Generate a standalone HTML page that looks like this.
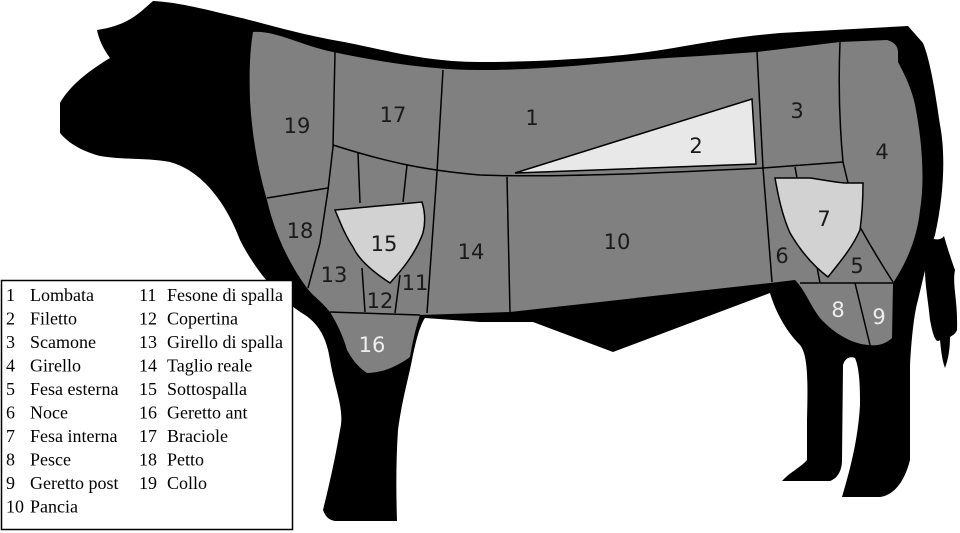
<!DOCTYPE html>
<html><head><meta charset="utf-8"><style>
html,body{margin:0;padding:0;background:#fff;}
svg{display:block}
.n{font-family:"DejaVu Sans","Liberation Sans",sans-serif;font-size:21px;fill:#1a1a1a;text-anchor:middle;dominant-baseline:middle}
.w{fill:#eee}
.l{font-family:"Liberation Serif",serif;font-size:18px;fill:#000}
</style></head><body>
<svg width="960" height="533" viewBox="0 0 960 533" xmlns="http://www.w3.org/2000/svg">
<path d="M153,1 C140,12 130,25 97,30 C100,45 108,55 110,58 C90,70 70,85 60,103 L60,133 C70,145 85,152 100,156 C125,160 150,158 170,162 C200,170 225,200 240,240 C255,270 280,300 305,315 C320,325 327,340 330,360 C335,390 345,410 340,430 C335,460 328,490 323,510 C326,518 330,520 335,521 L397,521 C396,490 396,460 398,430 C402,400 408,380 412,360 C416,340 420,325 425,318 L480,322 L533,322 L613,352 L770,293 C775,310 785,330 800,345 C808,355 808,380 807,420 L807,460 C800,468 790,472 782,481 L830,481 C838,478 842,470 842,460 L843,365 C845,358 850,356 855,358 C860,370 860,390 860,405 C858,440 850,470 842,497 L880,497 C895,495 905,480 910,460 L910,365 C912,330 915,310 918,300 C925,270 930,250 935,235 C945,190 945,150 940,125 C935,90 930,60 923,43 L908,26 L780,33 C720,38 680,48 640,53 C600,58 540,62 480,62 C420,62 380,48 333,40 C290,32 260,22 233,16 C200,8 175,2 153,1 Z" fill="#000"/>
<path d="M918,230 C930,240 940,242 944,236 C948,250 952,262 955,270 C952,285 958,300 957,330 C955,335 951,336 950,337 C950,350 948,360 945,368 C942,360 941,350 940,340 C935,345 932,330 930,320 C928,300 925,285 925,270 C922,255 918,245 918,230 Z" fill="#000"/>
<path d="M253,32 C275,30 300,45 333,52 C380,62 430,70 480,70 C560,70 620,60 700,56 L757,52 L840,42 L887,40 C895,42 898,47 898,52 L898,62 C905,75 912,90 915,105 C922,140 925,180 920,210 C917,240 905,265 893,283 L892,338 C885,345 875,346 870,345 C855,345 835,335 820,318 C810,305 805,290 795,280 L770,283 L510,312 L480,313 L420,315 C415,330 412,345 410,357 C395,368 380,373 367,373 C355,365 350,355 347,350 C343,335 335,320 330,312 C320,300 312,295 307,288 C290,265 275,235 267,200 C258,170 252,135 250,100 C249,70 250,50 253,32 Z" fill="#808080"/>
<g stroke="#000" stroke-width="1.5" fill="none">
<path d="M335,52 L333,147 L328,190 L320,243 L308,288"/>
<path d="M267,198 L328,188"/>
<path d="M333,145 C380,160 420,170 480,175 C560,178 680,172 763,168 L843,162"/>
<path d="M443,70 L437,172 L427,313"/>
<path d="M358,153 L360,203"/>
<path d="M407,165 L403,202"/>
<path d="M362,268 L365,312"/>
<path d="M400,275 L395,313"/>
<path d="M507,177 L510,312"/>
<path d="M757,52 L763,168 L772,282"/>
<path d="M840,42 C838,90 840,130 843,162 L848,183"/>
<path d="M795,167 L797,178"/>
<path d="M860,227 C870,245 882,265 893,282"/>
<path d="M817,267 L820,283"/>
<path d="M800,283 L893,283"/>
<path d="M855,283 L870,345"/>
<path d="M330,312 L420,315"/>
</g>
<path d="M515,173 L752,99 L756,164 Z" fill="#e8e8e8" stroke="#000" stroke-width="1.5"/>
<path d="M335,210 L422,202 C426,215 425,225 423,233 C415,255 400,272 390,283 C370,270 358,258 353,247 C345,235 340,222 335,210 Z" fill="#d2d2d2" stroke="#000" stroke-width="1.5"/>
<path d="M775,178 L810,178 C825,180 838,183 847,183 L863,183 C863,200 862,215 860,230 C852,248 840,262 828,277 C812,265 800,250 790,233 C782,215 778,195 775,178 Z" fill="#d2d2d2" stroke="#000" stroke-width="1.5"/>
<g class="n">
<text x="297" y="127">19</text><text x="393" y="116">17</text><text x="532" y="119">1</text>
<text x="696" y="147">2</text><text x="797" y="112">3</text><text x="882" y="153">4</text>
<text x="300" y="232">18</text><text x="384" y="245">15</text><text x="471" y="253">14</text>
<text x="617" y="243">10</text><text x="824" y="220">7</text><text x="782" y="257">6</text>
<text x="857" y="267">5</text><text x="334" y="276">13</text><text x="415" y="284">11</text>
<text x="380" y="302">12</text>
<text x="372" y="346" class="w">16</text><text x="838" y="311" class="w">8</text><text x="879" y="318" class="w">9</text>
</g>
<rect x="1.5" y="280.5" width="291" height="249" fill="#fff" stroke="#000" stroke-width="1.5"/>
<g class="l">
<text x="6" y="301">1</text><text x="30" y="301">Lombata</text>
<text x="6" y="324.5">2</text><text x="30" y="324.5">Filetto</text>
<text x="6" y="348">3</text><text x="30" y="348">Scamone</text>
<text x="6" y="371.5">4</text><text x="30" y="371.5">Girello</text>
<text x="6" y="395">5</text><text x="30" y="395">Fesa esterna</text>
<text x="6" y="418.5">6</text><text x="30" y="418.5">Noce</text>
<text x="6" y="442">7</text><text x="30" y="442">Fesa interna</text>
<text x="6" y="465.5">8</text><text x="30" y="465.5">Pesce</text>
<text x="6" y="489">9</text><text x="30" y="489">Geretto post</text>
<text x="6" y="512.5">10</text><text x="30" y="512.5">Pancia</text>
<text x="139" y="301">11</text><text x="167" y="301">Fesone di spalla</text>
<text x="139" y="324.5">12</text><text x="167" y="324.5">Copertina</text>
<text x="139" y="348">13</text><text x="167" y="348">Girello di spalla</text>
<text x="139" y="371.5">14</text><text x="167" y="371.5">Taglio reale</text>
<text x="139" y="395">15</text><text x="167" y="395">Sottospalla</text>
<text x="139" y="418.5">16</text><text x="167" y="418.5">Geretto ant</text>
<text x="139" y="442">17</text><text x="167" y="442">Braciole</text>
<text x="139" y="465.5">18</text><text x="167" y="465.5">Petto</text>
<text x="139" y="489">19</text><text x="167" y="489">Collo</text>
</g>
</svg>
</body></html>
